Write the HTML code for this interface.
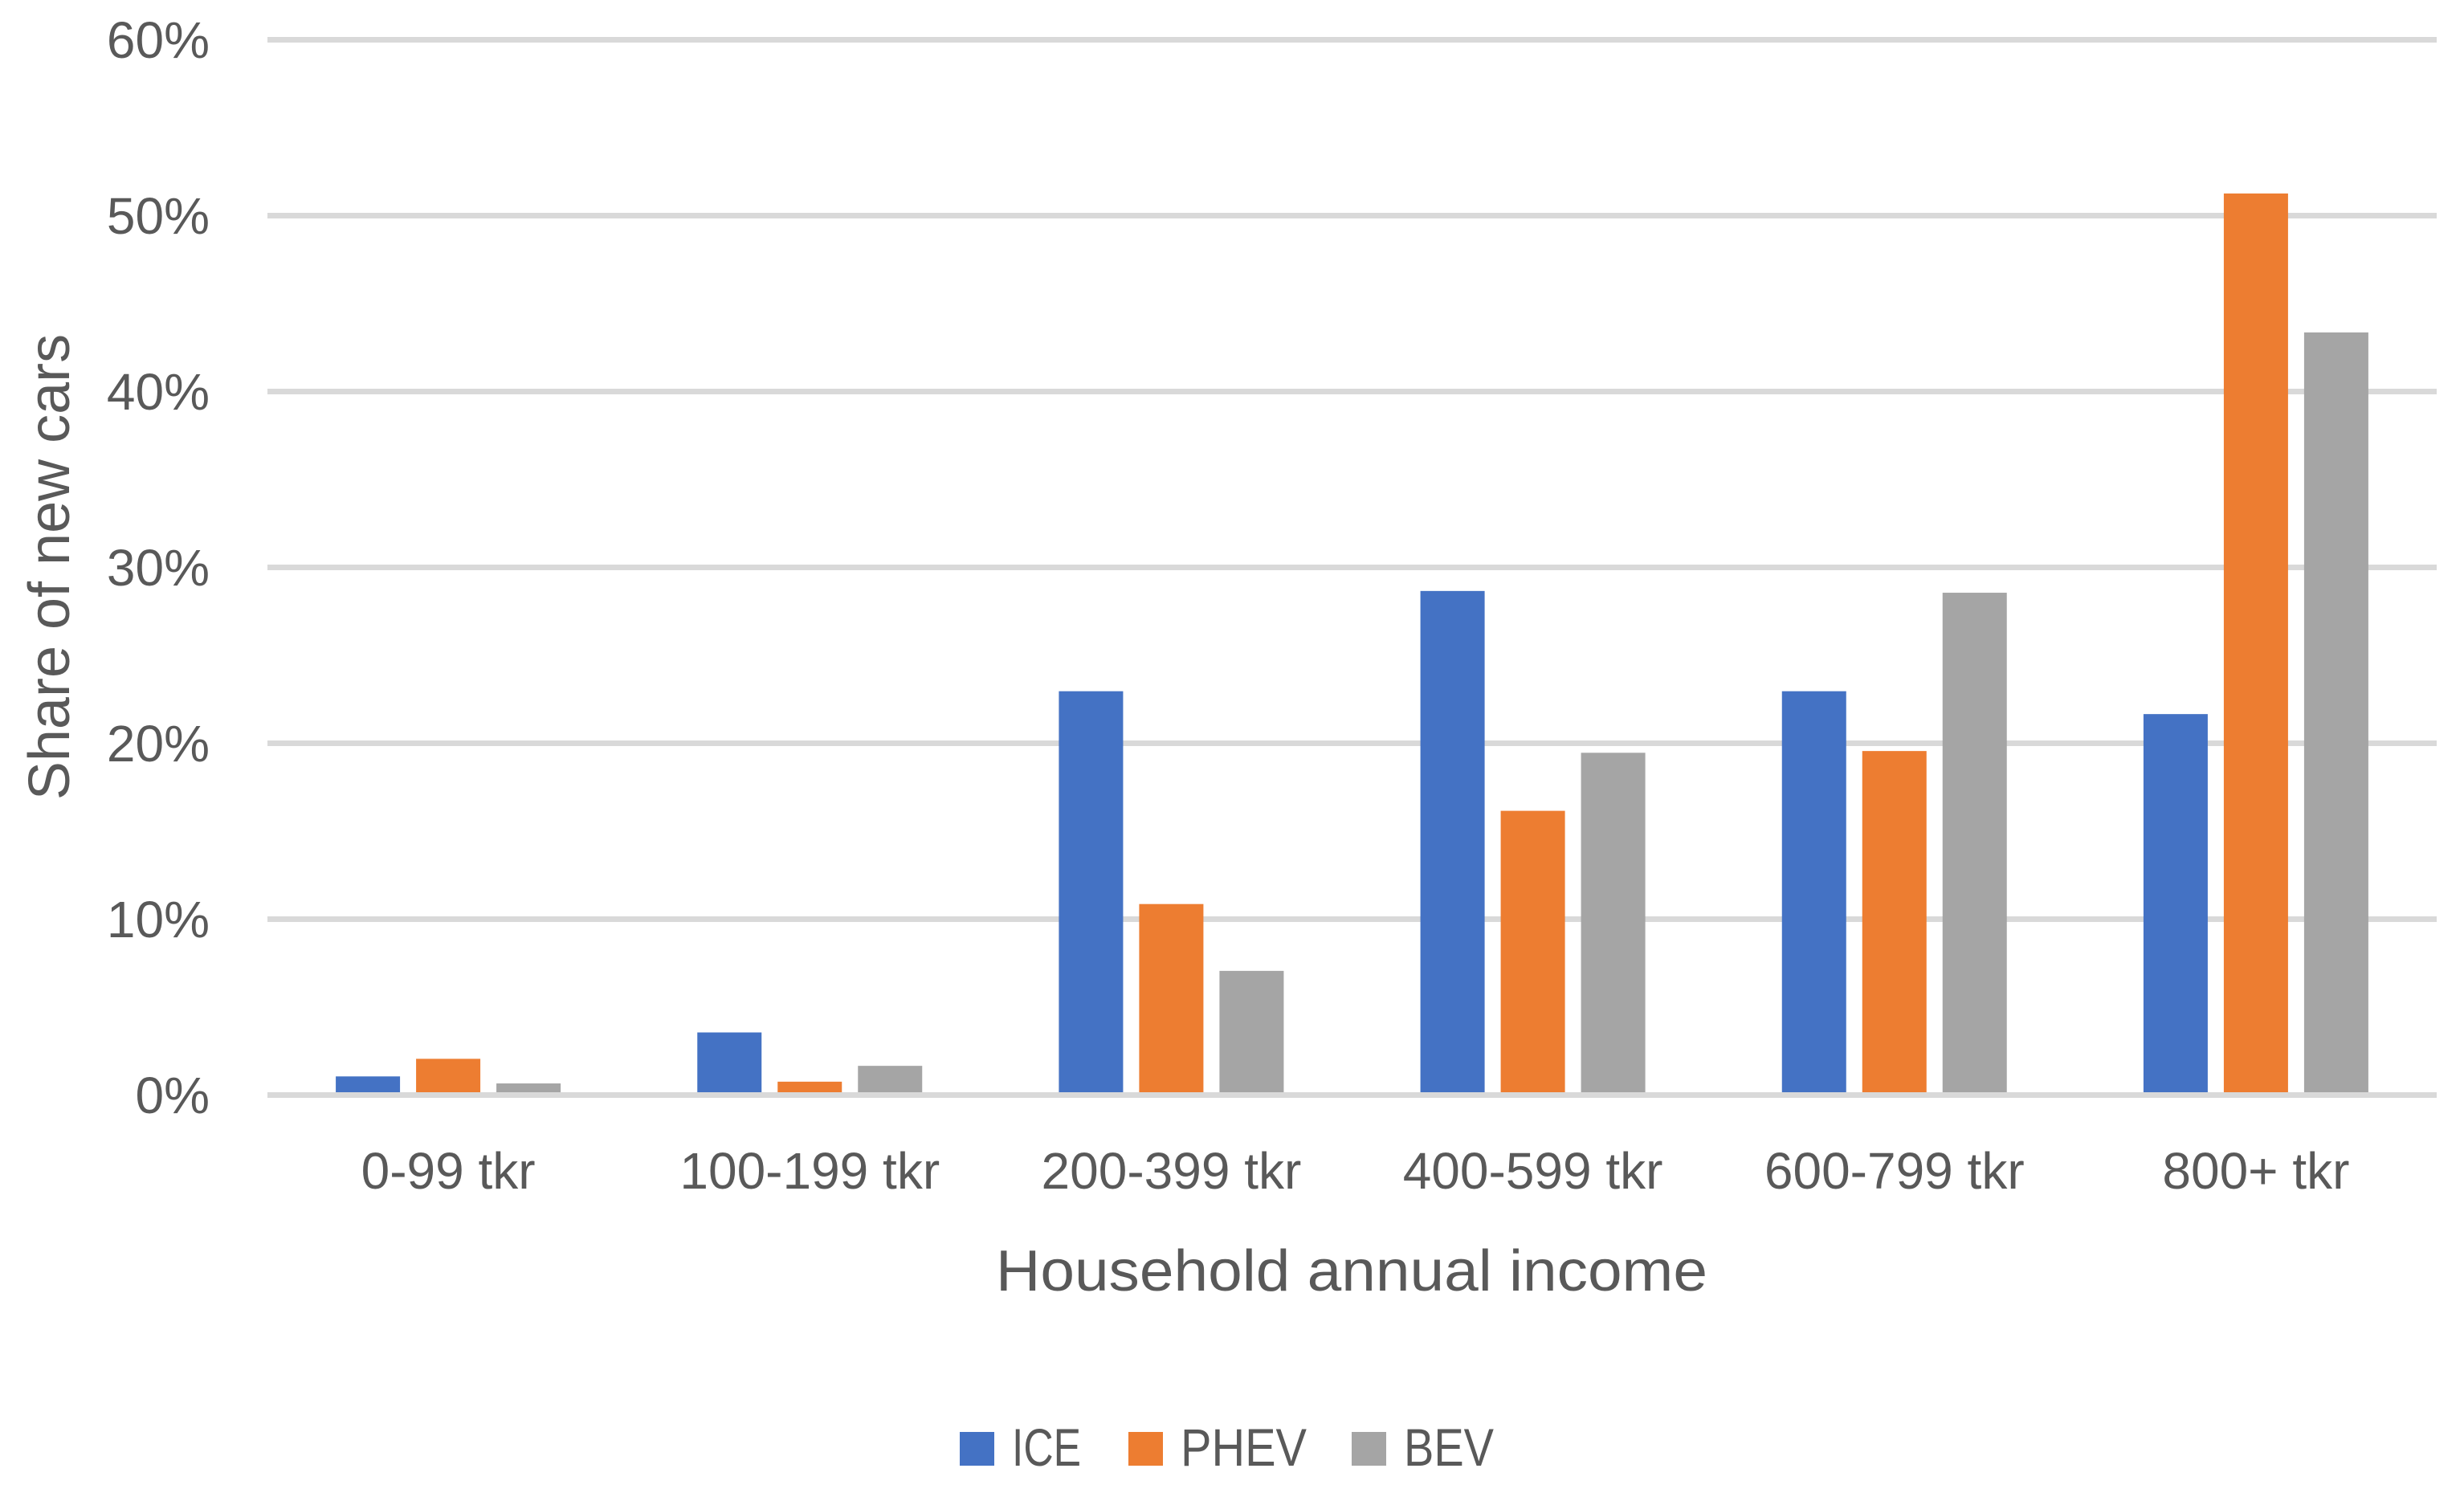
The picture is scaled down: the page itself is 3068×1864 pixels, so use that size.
<!DOCTYPE html>
<html><head><meta charset="utf-8"><style>
html,body{margin:0;padding:0;background:#fff;}
svg{display:block;font-family:"Liberation Sans",sans-serif;}
</style></head><body>
<svg id="chart" width="3068" height="1864" viewBox="0 0 3068 1864" xmlns="http://www.w3.org/2000/svg">
<rect x="0" y="0" width="3068" height="1864" fill="#fff"/>
<g id="grid"></g>
<g id="ylabels"></g>
<g id="bars"></g>
<g id="xlabels"></g>
<text x="0" y="0" transform="translate(86,706) rotate(-90)" text-anchor="middle" font-size="72" fill="#595959">Share of new cars</text>
<text x="1683" y="1607" text-anchor="middle" font-size="72" fill="#595959" textLength="886" lengthAdjust="spacingAndGlyphs">Household annual income</text>
<g>
<g><rect x="1195" y="1783" width="43" height="42" fill="#4472c4"/><text x="1260" y="1825" font-size="66" fill="#595959" textLength="86" lengthAdjust="spacingAndGlyphs">ICE</text></g>
<g><rect x="1405" y="1783" width="43" height="42" fill="#ed7d31"/><text x="1470" y="1825" font-size="66" fill="#595959" textLength="157" lengthAdjust="spacingAndGlyphs">PHEV</text></g>
<g><rect x="1683" y="1783" width="43" height="42" fill="#a5a5a5"/><text x="1748" y="1825" font-size="66" fill="#595959" textLength="112" lengthAdjust="spacingAndGlyphs">BEV</text></g>
</g>
</svg>
<script>
const categories = ["0-99 tkr","100-199 tkr","200-399 tkr","400-599 tkr","600-799 tkr","800+ tkr"];
const iceValues = [0.9, 3.4, 22.8, 28.5, 22.8, 21.5];
const phevValues = [1.9, 0.6, 10.7, 16.0, 19.4, 51.1];
const bevValues = [0.5, 1.5, 6.9, 19.3, 28.4, 43.2];
const yTicks = [0, 10, 20, 30, 40, 50, 60];
const yTickLabels = ["0%","10%","20%","30%","40%","50%","60%"];

const NS = "http://www.w3.org/2000/svg";
const plotL = 333, plotR = 3034, y0 = 1360, yTop = 46, yMax = 60;
function yScale(v){ return y0 - (v / yMax) * (y0 - yTop); }
const groupW = (plotR - plotL) / categories.length;
function xCenter(i){ return plotL + groupW * (i + 0.5); }
function mk(tag, attrs){ const e = document.createElementNS(NS, tag); for (const k in attrs) e.setAttribute(k, attrs[k]); return e; }

const grid = document.getElementById('grid');
const yl = document.getElementById('ylabels');
yTicks.forEach((t, i) => {
  const y = yScale(t);
  const ln = mk('rect', {x: plotL, y: y, width: plotR - plotL, height: 7, fill: '#d9d9d9'});
  
  
  grid.appendChild(ln);
  const tx = mk('text', {x: 261, y: y + 26, 'text-anchor': 'end', 'font-size': 64, fill: '#595959'});
  tx.textContent = yTickLabels[i];
  
  
  yl.appendChild(tx);
});

const bars = document.getElementById('bars');
const series = [[iceValues, '#4472c4', 'ice'], [phevValues, '#ed7d31', 'phev'], [bevValues, '#a5a5a5', 'bev']];
const barW = 80, step = 100;
categories.forEach((c, i) => {
  series.forEach((s, j) => {
    const v = s[0][i];
    const cx = xCenter(i) + (j - 1) * step;
    const r = mk('rect', {x: cx - barW / 2, y: yScale(v), width: barW, height: y0 - yScale(v), fill: s[1]});
    
    
    bars.appendChild(r);
  });
});

const xl = document.getElementById('xlabels');
categories.forEach((c, i) => {
  const t = mk('text', {x: xCenter(i), y: 1480, 'text-anchor': 'middle', 'font-size': 64, fill: '#595959'});
  t.textContent = c;
  
  
  xl.appendChild(t);
});
</script>
</body></html>
